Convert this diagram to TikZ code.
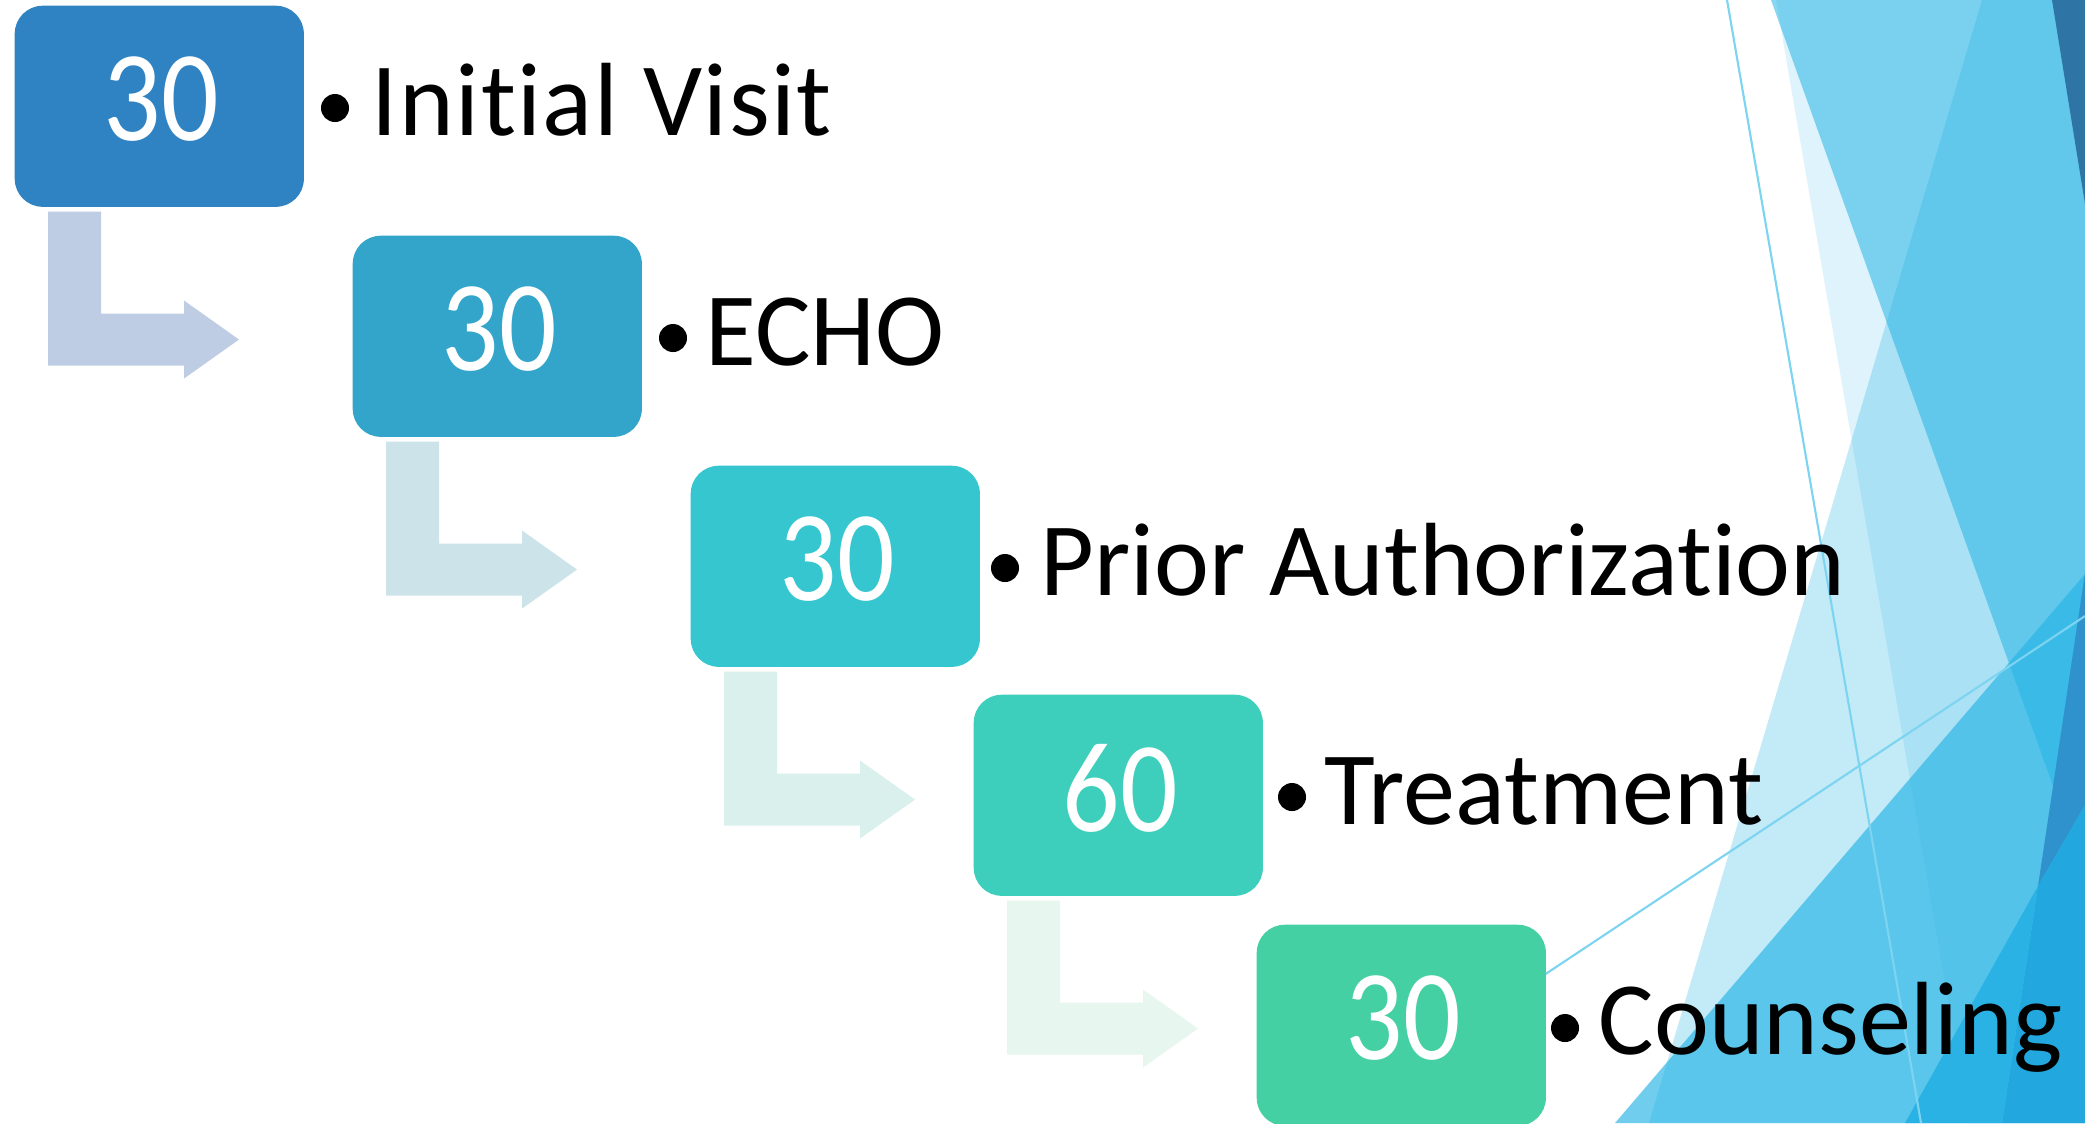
\documentclass[tikz,border=0pt]{standalone}
\usepackage{fontspec}
\setmainfont{Carlito}[Ligatures=NoCommon]
\usetikzlibrary{calc}
\definecolor{facet}{RGB}{38,180,229}
\definecolor{topdark}{RGB}{46,117,166}
\definecolor{middark}{RGB}{48,146,205}
\definecolor{lowblue}{RGB}{34,168,222}
\definecolor{lowbluetwo}{RGB}{41,178,227}
\definecolor{thinblue}{RGB}{125,212,241}
\definecolor{boxa}{RGB}{48,131,194}
\definecolor{boxb}{RGB}{51,165,202}
\definecolor{boxc}{RGB}{53,198,208}
\definecolor{boxd}{RGB}{62,207,188}
\definecolor{boxe}{RGB}{68,208,162}
\definecolor{arra}{RGB}{191,205,228}
\definecolor{arrb}{RGB}{203,227,233}
\definecolor{arrc}{RGB}{218,240,236}
\definecolor{arrd}{RGB}{231,246,239}
\begin{document}
\begin{tikzpicture}[x=0.01cm,y=-0.01cm,
  stepbox/.style={rounded corners=0.28cm, minimum width=2.89cm, minimum height=2.01cm, inner sep=0pt, anchor=north west},
  num/.style={text=white, font=\fontsize{36.7}{40}\selectfont, inner sep=0pt},
  lbl/.style={font=\fontsize{29.6}{34}\selectfont, anchor=base west, inner sep=0pt, text=black},
  dot/.style={circle, fill=black, minimum size=0.28cm, inner sep=0pt},
  thinline/.style={draw=thinblue, line width=0.6pt}
]
\useasboundingbox (0,0) rectangle (2085,1123);
\begin{scope}
\clip (0,0) rectangle (2085,1123);
\fill[white] (0,0) rectangle (2085,1123);
\fill[facet, fill opacity=0.15] (1776,0) -- (2085,0) -- (2085,1123) -- (1969,1123) -- cycle;
\fill[facet, fill opacity=0.28] (1982,0) -- (2085,0) -- (2085,1123) -- (1649,1123) -- cycle;
\fill[facet, fill opacity=0.54] (1771,0) -- (2085,0) -- (2085,875) -- cycle;
\fill[facet, fill opacity=0.66] (1615,1123) -- (2085,574) -- (2085,1123) -- cycle;
\fill[topdark] (2052,0) -- (2085,0) -- (2085,204) -- cycle;
\fill[middark] (2085,573) -- (2085,805) -- (2038,886) -- cycle;
\fill[lowblue] (2038,886) -- (2085,805) -- (2085,1123) -- (2002,1123) -- cycle;
\fill[lowbluetwo] (1905,1123) -- (2038,886) -- (2002,1123) -- cycle;
\coordinate (ta) at (1727,0);
\coordinate (tb) at (1921,1123);
\coordinate (tc) at (1321,1123);
\coordinate (td) at (2085,616);
\draw[thinline] (ta) -- (tb);
\draw[thinline] (tc) -- (td);
\end{scope}

% boxes
\node[stepbox, fill=boxa] (b1) at (14,5) {};
\node[stepbox, fill=boxb] (b2) at (352,235) {};
\node[stepbox, fill=boxc] (b3) at (690,465) {};
\node[stepbox, fill=boxd] (b4) at (973,694) {};
\node[stepbox, fill=boxe] (b5) at (1256,924) {};

% numbers
\node[num] (n1) at ($(b1.center)+(2,-7)$) {\scalebox{0.88}[1]{30}};
\node[num] (n2) at ($(b2.center)+(2,-7)$) {\scalebox{0.88}[1]{30}};
\node[num] (n3) at ($(b3.center)+(2,-7)$) {\scalebox{0.88}[1]{30}};
\node[num] (n4) at ($(b4.center)+(2,-7)$) {\scalebox{0.88}[1]{60}};
\node[num] (n5) at ($(b5.center)+(2,-7)$) {\scalebox{0.88}[1]{30}};

% bent arrows
\foreach \b/\c in {b1/arra, b2/arrb, b3/arrc, b4/arrd}{
  \fill[\c] ($(\b.south west)+(34,4)$) -- ++(53,0) -- ++(0,102) -- ++(83,0) -- ++(0,-13)
     -- ++(55,39) -- ++(-55,39) -- ++(0,-13) -- ++(-136,0) -- cycle;
}

% bullets and labels
\node[dot] (d1) at (335,108) {};
\node[dot] (d2) at (673,338) {};
\node[dot] (d3) at (1005,568) {};
\node[dot] (d4) at (1292,797) {};
\node[dot] (d5) at (1565,1028) {};
\node[lbl] (l1) at (371,135) {\addfontfeature{LetterSpace=1.5}Initial Visit};
\node[lbl] (l2) at (705,365) {ECHO};
\node[lbl] (l3) at (1040,595) {Prior Authorization};
\node[lbl] (l4) at (1324,824) {Treatment};
\node[lbl] (l5) at (1598,1054) {Counseling};
\end{tikzpicture}
\end{document}
